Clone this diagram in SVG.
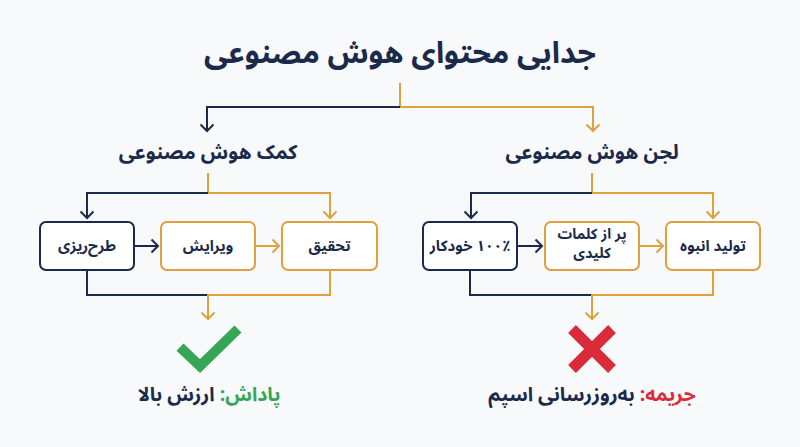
<svg xmlns="http://www.w3.org/2000/svg" width="800" height="447" viewBox="0 0 800 447">
<style>
text{font-family:"Noto Sans Arabic","DejaVu Sans",sans-serif;font-weight:700;direction:rtl;text-anchor:middle;fill:#1b2a4a}
.title{font-size:30px}
.sub{font-size:20px}
.lbl{font-size:15px}
.lbl2{font-size:14.5px}
.res{font-size:19.5px}
.n{fill:none;stroke:#1b2a4a;stroke-width:2}
.o{fill:none;stroke:#dfa03e;stroke-width:2}
.bn{fill:#ffffff;stroke:#1b2a4a;stroke-width:2}
.bo{fill:#ffffff;stroke:#dfa03e;stroke-width:2}
.green{fill:#34a655}
.red{fill:#d92b3a}
</style>
<defs>
<marker id="an" viewBox="-8 -8 10 16" refX="0" refY="0" markerWidth="10" markerHeight="16" markerUnits="userSpaceOnUse" orient="auto">
<path d="M-6.5,-6.5 L0,0 L-6.5,6.5" fill="none" stroke="#1b2a4a" stroke-width="2"/>
</marker>
<marker id="ao" viewBox="-8 -8 10 16" refX="0" refY="0" markerWidth="10" markerHeight="16" markerUnits="userSpaceOnUse" orient="auto">
<path d="M-6.5,-6.5 L0,0 L-6.5,6.5" fill="none" stroke="#dfa03e" stroke-width="2"/>
</marker>
</defs>
<rect width="800" height="447" fill="#f7f9fb"/>

<g id="title"><text class="title" x="400" y="63">جدایی محتوای هوش مصنوعی</text></g>

<g id="connectors">
<path class="o" d="M400,83 V107 H593 V131" marker-end="url(#ao)"/>
<path class="n" d="M400,107 H207 V131" marker-end="url(#an)"/>
<path class="o" d="M208,173 V193 H330 V218" marker-end="url(#ao)"/>
<path class="n" d="M208,193 H87 V218" marker-end="url(#an)"/>
<path class="o" d="M592,173 V193 H713 V218" marker-end="url(#ao)"/>
<path class="n" d="M592,193 H471 V218" marker-end="url(#an)"/>
<path class="n" d="M134,246 H158" marker-end="url(#an)"/>
<path class="o" d="M255,246 H279" marker-end="url(#ao)"/>
<path class="n" d="M517,246 H542" marker-end="url(#an)"/>
<path class="o" d="M639,246 H663" marker-end="url(#ao)"/>
<path class="n" d="M87,270 V295 H208"/>
<path class="o" d="M330,270 V295 H208 V319" marker-end="url(#ao)"/>
<path class="n" d="M470,270 V295 H592"/>
<path class="o" d="M713,270 V295 H592 V319" marker-end="url(#ao)"/>
</g>

<g id="help-title"><text class="sub" x="208" y="159">کمک هوش مصنوعی</text></g>
<g id="slop-title"><text class="sub" x="592" y="159">لجن هوش مصنوعی</text></g>

<g id="box-planning"><rect class="bn" x="40" y="222" width="94" height="48" rx="6"/><text class="lbl" x="87" y="251">طرح‌ریزی</text></g>
<g id="box-editing"><rect class="bo" x="161" y="222" width="94" height="48" rx="6"/><text class="lbl" x="208" y="251">ویرایش</text></g>
<g id="box-research"><rect class="bo" x="282" y="222" width="95" height="48" rx="6"/><text class="lbl" x="329.5" y="251">تحقیق</text></g>

<g id="box-auto"><rect class="bn" x="423" y="222" width="94" height="48" rx="6"/><text class="lbl" x="470" y="251">۱۰۰٪ خودکار</text></g>
<g id="box-keywords"><rect class="bo" x="545" y="222" width="94" height="48" rx="6"/><text class="lbl2" x="592" y="239"><tspan x="592" y="239">پر از کلمات</tspan><tspan x="592" y="258">کلیدی</tspan></text></g>
<g id="box-mass"><rect class="bo" x="666" y="222" width="94" height="48" rx="6"/><text class="lbl" x="713" y="251">تولید انبوه</text></g>

<g id="check"><path d="M180,347 L200,366 L238,329" fill="none" stroke="#34a655" stroke-width="10"/></g>
<g id="cross"><path d="M572,329 L612,369 M612,329 L572,369" fill="none" stroke="#d92b3a" stroke-width="11"/></g>

<g id="reward"><text class="res" x="209" y="401"><tspan class="green">پاداش:</tspan> ارزش بالا</text></g>
<g id="penalty"><text class="res" x="592" y="401"><tspan class="red">جریمه:</tspan> به‌روزرسانی اسپم</text></g>
</svg>
